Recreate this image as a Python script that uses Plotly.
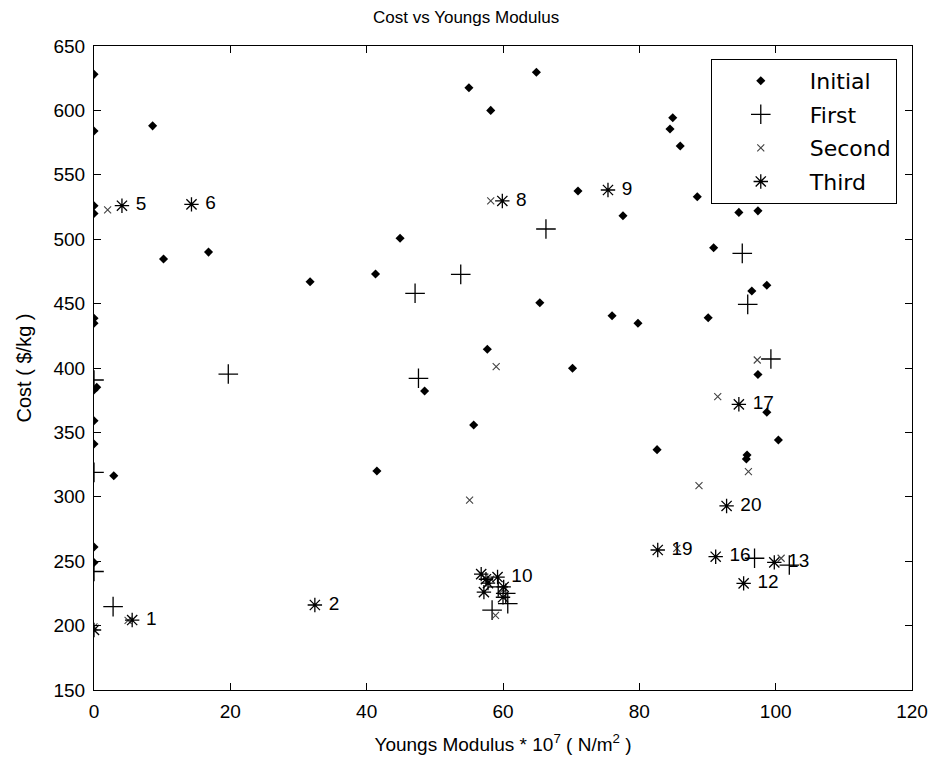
import plotly.graph_objects as go

# ---- data ----
initial_x = [0, 0, 8.6, 0, 0, 10.2, 16.8, 31.7, 0, 0, 0, 0.4, 0, 0, 2.9, 0, 0,
             55.0, 58.2, 64.9, 84.9, 84.5, 86.0, 71.0, 77.6, 88.5, 90.9, 94.6, 97.4,
             98.7, 96.5, 76.0, 79.8, 90.1, 70.2, 97.4, 98.7, 100.4, 82.6, 95.8, 95.7,
             41.3, 44.9, 48.5, 55.7, 65.4, 57.7, 41.5]
initial_y = [628, 584, 588, 526, 520, 484.6, 490, 467, 438.6, 434.7, 383, 385, 359, 341, 316.4, 261, 249,
             617.6, 600, 629.6, 594.3, 585.6, 572.4, 537.4, 518.2, 533, 493.4, 520.8, 522,
             464.2, 459.8, 440.6, 434.7, 439, 399.8, 395, 365.6, 344.1, 336.6, 332.4, 329.3,
             473, 500.7, 382.1, 355.7, 450.7, 414.5, 320]

first_x = [19.7, 0, 0, 0, 2.8, 66.3, 53.8, 47.1, 47.6, 95.9, 99.3, 95.1, 96.9, 102.0,
           58.4, 60.7, 60.4, 59.3]
first_y = [395.3, 390.7, 319, 242, 214.7, 507.9, 472.7, 458, 392, 449.4, 407, 489, 252.3, 247,
           212, 217, 225, 230]

second_x = [2.0, 58.2, 59.0, 55.1, 97.3, 91.5, 96.0, 88.75, 85.5, 100.8, 5.0, 0, 58.9, 58.2, 60.0]
second_y = [522.7, 529.7, 401, 297.5, 406.2, 377.7, 319.5, 308.6, 260, 252.3, 204, 199, 208, 236, 228]

third_x = [5.6, 32.4, 4.1, 14.3, 59.9, 75.4, 59.2, 95.3, 99.8, 91.2, 94.6, 82.7, 92.8,
           0, 56.8, 57.5, 57.2, 60.0, 60.1, 57.8]
third_y = [204.3, 216, 526, 527, 529.7, 538.2, 237.7, 232.8, 249.1, 253.5, 371.8, 258.7, 292.9,
           196.6, 240, 236, 226, 222, 230, 233]
third_labels = ["1", "2", "5", "6", "8", "9", "10", "12", "13", "16", "17", "19", "20",
                "", "", "", "", "", "", ""]

x_ticks = [0, 20, 40, 60, 80, 100, 120]
y_ticks = [150, 200, 250, 300, 350, 400, 450, 500, 550, 600, 650]

FONT = "Liberation Sans, Arial, sans-serif"
FS = 19

fig = go.Figure()
fig.add_trace(go.Scatter(
    x=initial_x, y=initial_y, mode="markers", name="Initial", legendgroup="a",
    marker=dict(symbol="diamond", size=7, color="black", line=dict(width=0))))
fig.add_trace(go.Scatter(
    x=first_x, y=first_y, mode="markers", name="First", legendgroup="b",
    marker=dict(symbol="cross-thin", size=14, color="black", line=dict(width=1.3, color="black"))))
fig.add_trace(go.Scatter(
    x=second_x, y=second_y, mode="markers", name="Second", legendgroup="c",
    marker=dict(symbol="x-thin", size=7, color="#444", line=dict(width=1.1, color="#444"))))
fig.add_trace(go.Scatter(
    x=third_x, y=third_y, mode="markers+text", name="Third", legendgroup="d",
    text=[" " + t if t else "" for t in third_labels], textposition="middle right",
    textfont=dict(family=FONT, size=FS, color="black"),
    marker=dict(symbol="asterisk", size=12, color="black", line=dict(width=1.3, color="black"))))

axis_common = dict(showgrid=False, zeroline=False, showline=True, linecolor="black", linewidth=1,
                   mirror="ticks", ticks="inside", ticklen=7, tickcolor="black",
                   automargin=False, ticklabelstandoff=4,
                   tickfont=dict(family=FONT, size=FS, color="black"))

fig.update_layout(
    width=920, height=754,
    paper_bgcolor="white", plot_bgcolor="white",
    margin=dict(l=86, r=16, t=38, b=72),
    title=dict(text="Cost vs Youngs Modulus", x=0.498, xanchor="center", y=0.988, yanchor="middle",
               font=dict(family=FONT, size=17, color="black")),
    xaxis=dict(range=[0, 120], tickvals=x_ticks,
               title=dict(text="Youngs Modulus * 10<sup>7</sup> ( N/m<sup>2</sup> )",
                          font=dict(family=FONT, size=19, color="black"), standoff=16),
               **axis_common),
    yaxis=dict(range=[150, 650], tickvals=y_ticks,
               title=dict(text="Cost ( $/kg )", font=dict(family=FONT, size=20, color="black"),
                          standoff=16),
               **axis_common),
    legend=dict(x=0.754, y=0.98, xanchor="left", yanchor="top",
                bordercolor="black", borderwidth=1, bgcolor="white",
                font=dict(family="DejaVu Sans, sans-serif", size=22, color="black"),
                tracegroupgap=2, itemwidth=88),
    showlegend=True,
)

fig.write_html("out.html")
